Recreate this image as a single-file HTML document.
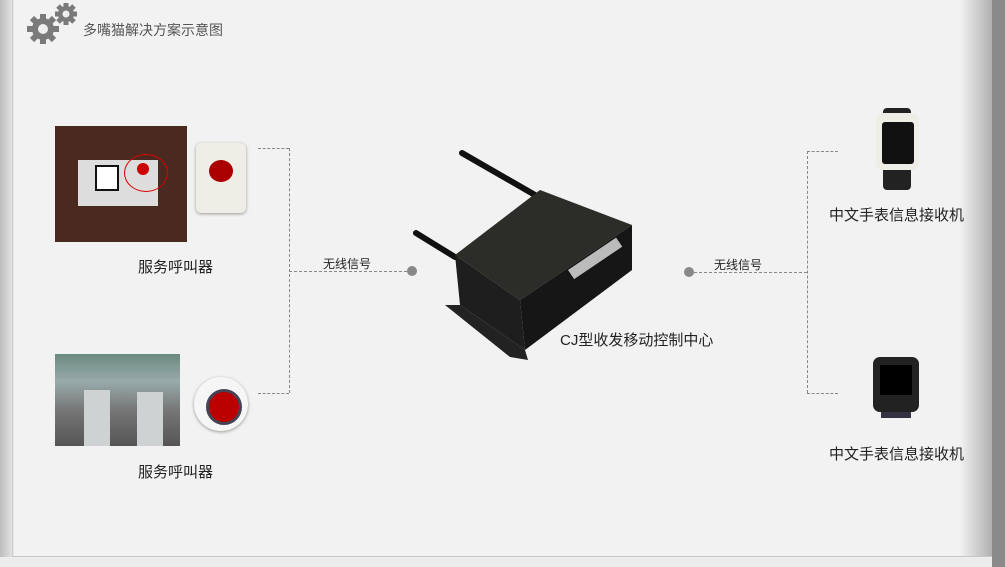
<!DOCTYPE html>
<html><head><meta charset="utf-8"><style>
body{margin:0;width:1005px;height:567px;overflow:hidden;position:relative;background:#f2f2f2;font-family:"Liberation Sans","Noto Sans CJK SC",sans-serif;}
.a{position:absolute}
.t{position:absolute;font-size:15px;color:#222;white-space:nowrap}
.s{position:absolute;font-size:12px;color:#222;white-space:nowrap}
.dh{position:absolute;height:0;border-top:1.5px dashed #888}
.dv{position:absolute;width:0;border-left:1.5px dashed #888}
.dot{position:absolute;width:10px;height:10px;border-radius:50%;background:#888}
</style></head><body>
<div class="a" style="left:0;top:0;width:14px;height:567px;background:linear-gradient(90deg,#bdbdbd,#e8e8e8)"></div>
<div class="a" style="left:12px;top:0;width:1px;height:557px;background:#ccc"></div>
<div class="a" style="left:960px;top:0;width:32px;height:567px;background:linear-gradient(90deg,#f2f2f2,#b0b0b0)"></div>
<div class="a" style="left:992px;top:0;width:13px;height:567px;background:#8a8a8a"></div>
<div class="a" style="left:12px;top:556px;width:980px;height:1px;background:#c8c8c8"></div>
<div class="a" style="left:0;top:557px;width:992px;height:10px;background:#ececec"></div>
<!-- gears -->
<svg class="a" style="left:24px;top:2px" width="60" height="42">
<g fill="#7a7a7a"><circle cx="19" cy="27" r="11"/><g stroke="#7a7a7a" stroke-width="6"><line x1="19" y1="12" x2="19" y2="42"/><line x1="3" y1="27" x2="35" y2="27"/><line x1="8" y1="16" x2="30" y2="38"/><line x1="30" y1="16" x2="8" y2="38"/></g>
<circle cx="42" cy="12" r="8"/><g stroke="#7a7a7a" stroke-width="5"><line x1="42" y1="1" x2="42" y2="23"/><line x1="31" y1="12" x2="53" y2="12"/><line x1="34" y1="4" x2="50" y2="20"/><line x1="50" y1="4" x2="34" y2="20"/></g></g>
<circle cx="19" cy="27" r="5" fill="#eee"/><circle cx="42" cy="12" r="3.5" fill="#eee"/></svg>
<div class="t" style="left:83px;top:20px;font-size:14px;color:#555">多嘴猫解决方案示意图</div>
<!-- left images -->
<div class="a" style="left:55px;top:126px;width:132px;height:116px;background:#4a2a20"></div>
<div class="a" style="left:78px;top:160px;width:80px;height:46px;background:#ddd"></div>
<div class="a" style="left:95px;top:165px;width:20px;height:22px;border:2px solid #111;background:#fff"></div>
<div class="a" style="left:124px;top:154px;width:42px;height:36px;border:1.5px solid #d00;border-radius:50%"></div>
<div class="a" style="left:137px;top:163px;width:12px;height:12px;border-radius:50%;background:#c00"></div>
<div class="a" style="left:196px;top:143px;width:50px;height:70px;background:#eeeee6;border-radius:5px;box-shadow:0 1px 3px #999"></div>
<div class="a" style="left:209px;top:160px;width:24px;height:22px;border-radius:50%;background:#a00"></div>
<div class="a" style="left:55px;top:354px;width:125px;height:92px;background:linear-gradient(#6a8a80,#9aa 30%,#777 60%,#555)"></div>
<div class="a" style="left:84px;top:390px;width:26px;height:56px;background:#cfd2d2"></div>
<div class="a" style="left:137px;top:392px;width:26px;height:54px;background:#cfd2d2"></div>
<div class="a" style="left:194px;top:377px;width:54px;height:54px;border-radius:50%;background:#f6f6f6;box-shadow:0 1px 3px #999"></div>
<div class="a" style="left:206px;top:389px;width:30px;height:30px;border-radius:50%;background:#b00;border:3px solid #445"></div>
<div class="t" style="left:138px;top:256px">服务呼叫器</div>
<div class="t" style="left:138px;top:461px">服务呼叫器</div>
<!-- connectors -->
<div class="dh" style="left:258px;top:148px;width:31px"></div>
<div class="dh" style="left:258px;top:393px;width:31px"></div>
<div class="dv" style="left:289px;top:148px;height:245px"></div>
<div class="dh" style="left:289px;top:271px;width:123px"></div>
<div class="dot" style="left:407px;top:266px"></div>
<div class="s" style="left:323px;top:255px">无线信号</div>
<div class="dot" style="left:684px;top:267px"></div>
<div class="dh" style="left:689px;top:272px;width:118px"></div>
<div class="s" style="left:714px;top:256px">无线信号</div>
<div class="dv" style="left:807px;top:151px;height:242px"></div>
<div class="dh" style="left:807px;top:151px;width:31px"></div>
<div class="dh" style="left:807px;top:393px;width:31px"></div>
<!-- device -->
<svg class="a" style="left:410px;top:145px" width="240" height="215">
<line x1="52" y1="8" x2="125" y2="50" stroke="#111" stroke-width="6" stroke-linecap="round"/>
<line x1="6" y1="88" x2="45" y2="112" stroke="#111" stroke-width="6" stroke-linecap="round"/>
<polygon points="45,110 130,45 222,80 110,155" fill="#2c2c28"/>
<polygon points="110,155 222,80 222,125 115,205" fill="#161616"/>
<polygon points="45,110 110,155 115,205 50,160" fill="#1e1e1e"/>
<polygon points="35,160 50,160 115,205 118,215 100,212" fill="#222"/>
<rect x="158" y="125" width="58" height="11" fill="#bbb" transform="rotate(-34 158 125)"/>
</svg>
<div class="t" style="left:560px;top:329px">CJ型收发移动控制中心</div>
<!-- watches -->
<div class="a" style="left:883px;top:108px;width:28px;height:82px;background:#222;border-radius:4px"></div>
<div class="a" style="left:876px;top:113px;width:43px;height:57px;background:#efeee6;border-radius:7px"></div>
<div class="a" style="left:882px;top:122px;width:32px;height:42px;background:#111;border-radius:3px"></div>
<div class="a" style="left:881px;top:390px;width:30px;height:28px;background:#334"></div>
<div class="a" style="left:873px;top:357px;width:46px;height:55px;background:#222;border-radius:7px"></div>
<div class="a" style="left:880px;top:365px;width:32px;height:30px;background:#000"></div>
<div class="t" style="left:829px;top:204px">中文手表信息接收机</div>
<div class="t" style="left:829px;top:443px">中文手表信息接收机</div>
</body></html>
